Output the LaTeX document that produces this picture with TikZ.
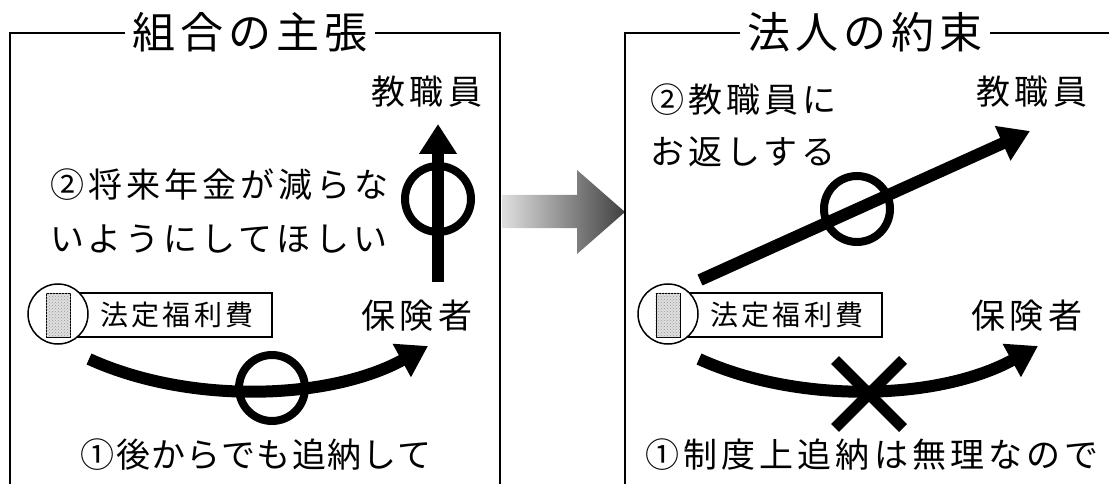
\documentclass[tikz,border=0pt]{standalone}
\usepackage{fontspec}
\newfontfamily\jp[LetterSpace=12]{Noto Sans CJK JP}
\newfontfamily\jpn[LetterSpace=4]{Noto Sans CJK JP}
\usetikzlibrary{arrows.meta,shadings,patterns}
\tikzset{
  frame/.style={line width=2pt},
  ttl/.style={font=\jp\fontsize{43}{50}\selectfont, inner xsep=7pt, inner ysep=0pt, fill=white},
  lbl/.style={font=\jp\fontsize{34}{40}\selectfont, inner sep=0pt},
  feebox/.style={draw, line width=1.5pt, minimum width=196pt, minimum height=44pt, inner sep=0pt, font=\jp\fontsize{28}{32}\selectfont},
  coin/.style={circle, draw, fill=white, line width=1.5pt, minimum size=60pt, inner sep=0pt},
  bar/.style={draw, line width=1pt, fill=gray!25, minimum width=24pt, minimum height=44pt, inner sep=0pt},
  flow/.style={line width=12pt, -{Triangle[length=30pt,width=36pt]}},
  ring/.style={circle, draw, line width=8pt, minimum size=66pt, inner sep=0pt},
  cross/.style={line width=11pt},
}
\begin{document}
\begin{tikzpicture}[x=1pt,y=-1pt]
\useasboundingbox (0,0) rectangle (1109,484);
% ---------- left panel ----------
\node[ttl] (titleL) at (250,32) {組合の主張};
\draw[frame] (titleL.west |- 0,33) -- (10,33) -- (10,484);
\draw[frame] (titleL.east |- 0,33) -- (500,33) -- (500,484);
\node[lbl] (staffL) at (427,92) {教職員};
\node[lbl] (insL) at (417,316) {保険者};
\node[lbl, anchor=west] (wishA) at (50,185) {②将来年金が減らな};
\node[lbl, anchor=west] (wishB) at (50,239) {いようにしてほしい};
\node[lbl, font=\jpn\fontsize{34}{40}\selectfont] (noteL) at (256,455) {①後からでも追納して};
% fee icon
\node[feebox] (feeL) at (174,315) {\hspace*{6pt}法定福利費};
\node[coin] (coinL) at (58,314) {};
\node[bar] (barL) at (58,315) {};
\fill[pattern=crosshatch dots, pattern color=gray!80] (barL.south west) rectangle (barL.north east);
% arrows
\coordinate (upS) at (438,282);
\coordinate (upT) at (438,124);
\draw[flow] (upS) -- (upT);
\node[ring] (ringUp) at (438,199) {};
\coordinate (cL0) at (89,359);
\coordinate (cL1) at (428,346);
\draw[flow] (cL0) .. controls (190,405) and (330,400) .. (cL1);
\node[ring] (ringL) at (272,388) {};
% ---------- middle arrow ----------
\shade[left color=gray!25, right color=black!75]
  (502,195) -- (577,195) -- (577,170) -- (625,212) -- (577,254) -- (577,228) -- (502,228) -- cycle;
% ---------- right panel ----------
\node[ttl] (titleR) at (865,32) {法人の約束};
\draw[frame] (titleR.west |- 0,33) -- (625,33) -- (625,484);
\draw[frame] (titleR.east |- 0,33) -- (1109,33);
\node[lbl] (staffR) at (1032,92) {教職員};
\node[lbl] (insR) at (1027,316) {保険者};
\node[lbl, anchor=west] (retA) at (650,100) {②教職員に};
\node[lbl, anchor=west] (retB) at (650,152) {お返しする};
\node[lbl] (noteR) at (872,455) {①制度上追納は無理なので};
\node[feebox] (feeR) at (784,315) {\hspace*{6pt}法定福利費};
\node[coin] (coinR) at (668,314) {};
\node[bar] (barR) at (668,315) {};
\fill[pattern=crosshatch dots, pattern color=gray!80] (barR.south west) rectangle (barR.north east);
\coordinate (dS) at (700,280);
\coordinate (dT) at (1030,131);
\draw[flow] (dS) -- (dT);
\node[ring] (ringR) at (857,209) {};
\coordinate (cR0) at (699,359);
\coordinate (cR1) at (1038,346);
\draw[flow] (cR0) .. controls (800,405) and (940,400) .. (cR1);
\coordinate (x1) at (835,360);
\coordinate (x2) at (903,428);
\coordinate (x3) at (903,360);
\coordinate (x4) at (835,428);
\draw[cross] (x1) -- (x2);
\draw[cross] (x3) -- (x4);
\end{tikzpicture}
\end{document}
